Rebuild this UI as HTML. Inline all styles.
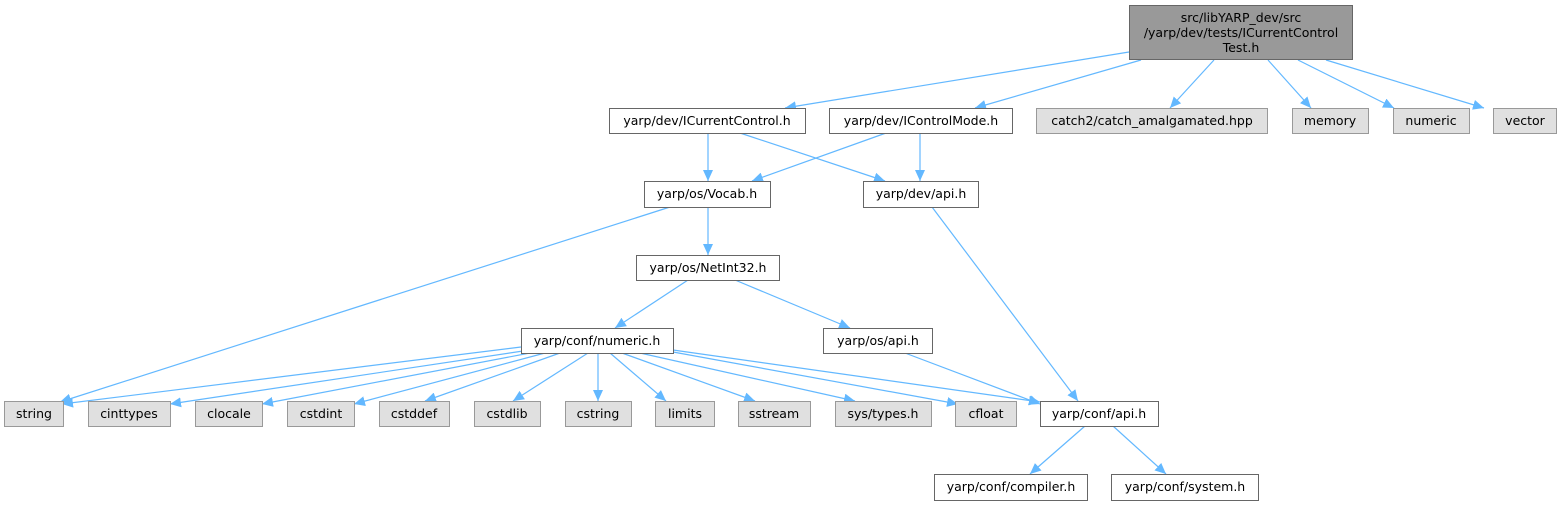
<!DOCTYPE html>
<html><head><meta charset="utf-8"><style>
html,body{margin:0;padding:0;background:#fff;}
svg text{font-family:"DejaVu Sans","Liberation Sans",sans-serif;font-size:12.5px;fill:#000;}
</style></head><body>
<svg width="1561" height="505" viewBox="0 0 1561 505" xmlns="http://www.w3.org/2000/svg">
<defs>
<marker id="a" markerUnits="userSpaceOnUse" markerWidth="12" markerHeight="10" refX="11" refY="5" orient="auto">
<path d="M0,0 L11,5 L0,10 Z" fill="#63b8ff"/>
</marker>
</defs>
<g stroke="#63b8ff" stroke-width="1.2" fill="none" marker-end="url(#a)">
<line x1="1129" y1="52" x2="785" y2="108"/>
<line x1="1141" y1="60" x2="975" y2="108"/>
<line x1="1214" y1="60" x2="1170" y2="108"/>
<line x1="1268" y1="60" x2="1311" y2="108"/>
<line x1="1298" y1="60" x2="1394" y2="108"/>
<line x1="1326" y1="60" x2="1484" y2="108"/>
<line x1="708" y1="133" x2="708" y2="181"/>
<line x1="740" y1="133" x2="885" y2="181"/>
<line x1="886" y1="133" x2="752" y2="181"/>
<line x1="920" y1="133" x2="920" y2="181"/>
<line x1="670" y1="207" x2="60" y2="402"/>
<line x1="708" y1="207" x2="708" y2="255"/>
<line x1="932" y1="207" x2="1078" y2="401"/>
<line x1="688" y1="280" x2="615" y2="328"/>
<line x1="735" y1="280" x2="850" y2="328"/>
<line x1="905" y1="353" x2="1040" y2="404"/>
<line x1="521" y1="347" x2="62" y2="404"/>
<line x1="523" y1="351" x2="170" y2="404"/>
<line x1="530" y1="353" x2="262" y2="404"/>
<line x1="545" y1="353" x2="354" y2="404"/>
<line x1="560" y1="353" x2="425" y2="401"/>
<line x1="588" y1="353" x2="513" y2="401"/>
<line x1="598" y1="353" x2="598" y2="401"/>
<line x1="610" y1="353" x2="666" y2="401"/>
<line x1="622" y1="353" x2="755" y2="401"/>
<line x1="640" y1="353" x2="855" y2="401"/>
<line x1="673" y1="352" x2="958" y2="404"/>
<line x1="673" y1="350" x2="1040" y2="402"/>
<line x1="1085" y1="426" x2="1030" y2="474"/>
<line x1="1113" y1="426" x2="1166" y2="474"/>
</g>
<g stroke-width="1">
<rect x="1129.5" y="5.5" width="223" height="54" fill="#999" stroke="#666"/>
<g fill="#fff" stroke="#666">
<rect x="609.5" y="108.5" width="196" height="25"/>
<rect x="829.5" y="108.5" width="183" height="25"/>
<rect x="644.5" y="181.5" width="126" height="26"/>
<rect x="863.5" y="181.5" width="115" height="26"/>
<rect x="636.5" y="255.5" width="143" height="25"/>
<rect x="521.5" y="328.5" width="152" height="25"/>
<rect x="823.5" y="328.5" width="109" height="25"/>
<rect x="1040.5" y="401.5" width="118" height="25"/>
<rect x="934.5" y="474.5" width="153" height="26"/>
<rect x="1111.5" y="474.5" width="147" height="26"/>
</g>
<g fill="#e0e0e0" stroke="#999">
<rect x="1036.5" y="108.5" width="231" height="25"/>
<rect x="1292.5" y="108.5" width="76" height="25"/>
<rect x="1393.5" y="108.5" width="76" height="25"/>
<rect x="1493.5" y="108.5" width="63" height="25"/>
<rect x="4.5" y="401.5" width="59" height="25"/>
<rect x="88.5" y="401.5" width="82" height="25"/>
<rect x="195.5" y="401.5" width="67" height="25"/>
<rect x="287.5" y="401.5" width="67" height="25"/>
<rect x="379.5" y="401.5" width="70" height="25"/>
<rect x="474.5" y="401.5" width="66" height="25"/>
<rect x="565.5" y="401.5" width="66" height="25"/>
<rect x="655.5" y="401.5" width="59" height="25"/>
<rect x="738.5" y="401.5" width="72" height="25"/>
<rect x="835.5" y="401.5" width="96" height="25"/>
<rect x="955.5" y="401.5" width="61" height="25"/>
</g>
</g>
<g text-anchor="middle">
<text x="1241" y="22">src/libYARP_dev/src</text>
<text x="1241" y="37">/yarp/dev/tests/ICurrentControl</text>
<text x="1241" y="52">Test.h</text>
<text x="707" y="125">yarp/dev/ICurrentControl.h</text>
<text x="921" y="125">yarp/dev/IControlMode.h</text>
<text x="1152" y="125">catch2/catch_amalgamated.hpp</text>
<text x="1330" y="125">memory</text>
<text x="1431" y="125">numeric</text>
<text x="1525" y="125">vector</text>
<text x="707" y="198">yarp/os/Vocab.h</text>
<text x="921" y="198">yarp/dev/api.h</text>
<text x="708" y="272">yarp/os/NetInt32.h</text>
<text x="597" y="345">yarp/conf/numeric.h</text>
<text x="878" y="345">yarp/os/api.h</text>
<text x="34" y="418">string</text>
<text x="129" y="418">cinttypes</text>
<text x="229" y="418">clocale</text>
<text x="321" y="418">cstdint</text>
<text x="414" y="418">cstddef</text>
<text x="507" y="418">cstdlib</text>
<text x="598" y="418">cstring</text>
<text x="685" y="418">limits</text>
<text x="774" y="418">sstream</text>
<text x="883" y="418">sys/types.h</text>
<text x="986" y="418">cfloat</text>
<text x="1099" y="418">yarp/conf/api.h</text>
<text x="1011" y="491">yarp/conf/compiler.h</text>
<text x="1185" y="491">yarp/conf/system.h</text>
</g>
</svg>
</body></html>
